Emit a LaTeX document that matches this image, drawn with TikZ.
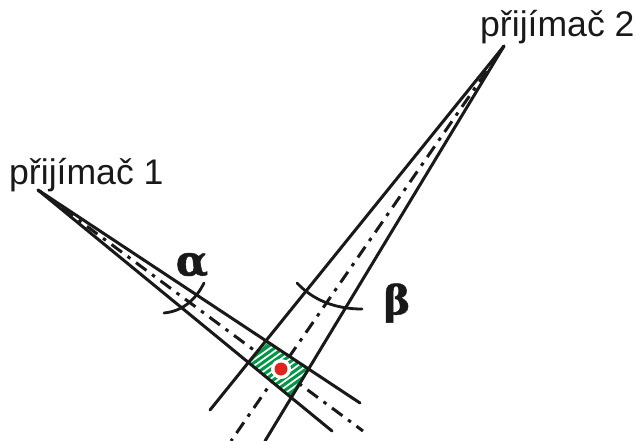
\documentclass[tikz,border=0pt]{standalone}
\usetikzlibrary{calc}
\usepackage{fontspec}
\setmainfont{Liberation Sans}
\newfontfamily\greekbold[FakeBold=1.2]{DejaVu Serif}
\begin{document}
\begin{tikzpicture}[x=1pt,y=-1pt,
  beam/.style={line width=3pt,draw=black!90,line cap=round},
  axis/.style={line width=3pt,draw=black!90,dash pattern=on 13pt off 7pt on 3.5pt off 7pt},
  arcline/.style={line width=2.8pt,draw=black!90,line cap=round},
  stripe/.style={line width=3pt,draw=hatchgreen},
  rx/.style={inner sep=0pt,font=\fontsize{35.6}{37}\selectfont,text=black!90},
  ang/.style={inner sep=0pt,text=black!90}]
\definecolor{hatchgreen}{RGB}{0,150,70}
\definecolor{dotred}{RGB}{225,35,30}
\useasboundingbox (0,0) rectangle (637,441);
\coordinate (R1) at (38,190);
\coordinate (R2) at (504,46);
\coordinate (A1) at (360,403);
\coordinate (A2) at (332,431);
\coordinate (A3) at (363,431);
\coordinate (B1) at (210,410);
\coordinate (B2) at (265,441);
\coordinate (B3) at (231,441);
\coordinate (Q1) at (268,343);
\coordinate (Q2) at (308,369);
\coordinate (Q3) at (290,396);
\coordinate (Q4) at (249,363);
% beams' axes, under the cell
\draw[axis] (R1) -- (A3);
\draw[axis] (R2) -- (B3);
% hatched cell
\fill[white] (Q1) -- (Q2) -- (Q3) -- (Q4) -- cycle;
\begin{scope}
\clip (Q1) -- (Q2) -- (Q3) -- (Q4) -- cycle;
\foreach \k in {-8,...,8}
  \draw[stripe] ($(280,369)+(0,\k*6.2)+(-45,32)$) -- ++(90,-64);
\end{scope}
\draw[hatchgreen,line width=1.4pt] (Q1) -- (Q2) -- (Q3) -- (Q4) -- cycle;
\fill[white] (281,369) circle (10);
\fill[dotred] (281,369) circle (6.5);
% beams
\draw[beam] (R1) -- (A1);
\draw[beam] (R1) -- (A2);
\draw[beam] (R2) -- (B1);
\draw[beam] (R2) -- (B2);
% angle arcs
\draw[arcline] (164,313) .. controls (185,311) and (197,297) .. (204,283);
\draw[arcline] (297,283) .. controls (313,300) and (335,309) .. (362,309);
% labels
\node[rx,anchor=base west] (r1) at (9,184) {přijímač 1};
\node[rx,anchor=base west] (r2) at (480,37) {přijímač 2};
\node[ang,font=\greekbold\bfseries\fontsize{42}{44}\selectfont] (al) at (192,265) {α};
\node[ang,font=\greekbold\bfseries\fontsize{40}{42}\selectfont] (be) at (397,303) {β};
\end{tikzpicture}
\end{document}
